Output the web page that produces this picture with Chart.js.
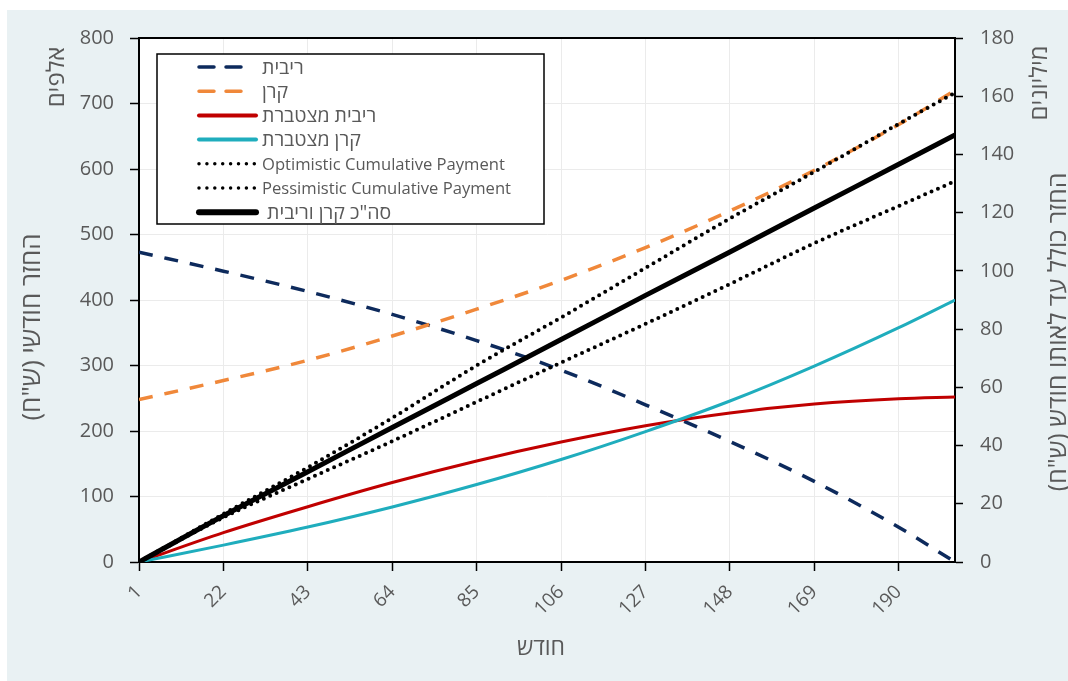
<!DOCTYPE html>
<html><head><meta charset="utf-8">
<script src="https://cdn.jsdelivr.net/npm/chart.js@4"></script>
<style>html,body{margin:0;padding:0;background:#fff;}#wrap{position:relative;width:1068px;height:681px;}</style>
</head><body><div id="wrap"><canvas id="c" width="1068" height="681"></canvas></div>
<script>
// ---- data ----
const months        = [1, 22, 43, 64, 85, 106, 127, 148, 169, 190, 204];
const monthTicks    = [1, 22, 43, 64, 85, 106, 127, 148, 169, 190];
const interest      = [473, 444, 413, 378, 338, 293, 240, 184, 123, 53, 0];          // thousands (left)
const principal     = [248, 277, 308, 345, 386, 430, 480, 536, 598, 668, 720];       // thousands (left)
const cumInterest   = [0, 10.1, 19.0, 27.3, 34.7, 41.2, 46.8, 51.2, 54.3, 56.1, 56.7]; // millions (right)
const cumPrincipal  = [0, 5.8, 12.0, 18.9, 26.6, 35.2, 44.8, 55.3, 67.3, 80.5, 90.0];
const optimistic    = [0, 16.5, 32.5, 49.5, 67.5, 84.0, 101.0, 118.0, 134.0, 150.5, 161.2];
const pessimistic   = [0, 15.3, 28.5, 41.5, 55.0, 68.5, 81.8, 95.5, 109.5, 122.3, 130.8];
const totalCum      = [0, 15.9, 31.0, 46.2, 61.3, 76.4, 91.6, 106.5, 121.6, 136.6, 146.7];
const seriesNames   = ['ריבית', 'קרן', 'ריבית מצטברת', 'קרן מצטברת', 'Optimistic Cumulative Payment', 'Pessimistic Cumulative Payment', 'סה"כ קרן וריבית '];
const xTitle = 'חודש';
const yLeftTitle = 'החזר חודשי (ש"ח)';
const yLeftUnit = 'אלפים';
const yRightTitle = 'החזר כולל עד לאותו חודש (ש"ח)';
const yRightUnit = 'מיליונים';

const pts = arr => months.map((m, i) => ({x: m, y: arr[i]}));
const FONT = "'Segoe UI', 'Open Sans', 'DejaVu Sans', sans-serif";
const GRAY = '#595959';

const legendW = [3.5, 3.5, 4, 4, 3.5, 3.5, 6];
const isHeb = s => /[\u0590-\u05FF]/.test(s);

const bgPlugin = {
  id: 'bg',
  beforeDraw(chart) {
    const ctx = chart.ctx, a = chart.chartArea;
    ctx.save();
    ctx.fillStyle = '#ffffff'; ctx.fillRect(0, 0, chart.width, chart.height);
    ctx.fillStyle = '#e9f1f3'; ctx.fillRect(7, 10, chart.width - 7, chart.height - 10);
    ctx.fillStyle = '#ffffff'; ctx.fillRect(a.left, a.top, a.right - a.left, a.bottom - a.top);
    ctx.restore();
  },
  afterDraw(chart) {
    const ctx = chart.ctx, a = chart.chartArea;
    ctx.save();
    // top border
    ctx.strokeStyle = '#000'; ctx.lineWidth = 2;
    ctx.beginPath(); ctx.moveTo(a.left - 1, a.top); ctx.lineTo(a.right + 1, a.top); ctx.stroke();
    // titles
    ctx.fillStyle = GRAY; ctx.textBaseline = 'middle'; ctx.textAlign = 'center';
    ctx.direction = 'rtl';
    const rot = (txt, x, y, ang) => { ctx.save(); ctx.translate(x, y); ctx.rotate(ang); ctx.fillText(txt, 0, 0); ctx.restore(); };
    ctx.font = '26px ' + FONT;
    rot(yLeftTitle, 33, 327, -Math.PI / 2);
    ctx.font = '25px ' + FONT;
    rot(yRightTitle, 1059, 332, -Math.PI / 2);
    ctx.font = '24px ' + FONT;
    rot(yLeftUnit, 57, 77, -Math.PI / 2);
    rot(yRightUnit, 1040, 83, -Math.PI / 2);
    ctx.font = '23px ' + FONT;
    ctx.fillText(xTitle, 541, 648);
    // legend
    const bx = 157, by = 54, bw = 387, bh = 170;
    ctx.fillStyle = '#fff'; ctx.fillRect(bx, by, bw, bh);
    ctx.strokeStyle = '#000'; ctx.lineWidth = 1.5; ctx.strokeRect(bx, by, bw, bh);
    chart.data.datasets.forEach((ds, i) => {
      const y = 67 + i * 24.2;
      ctx.save();
      ctx.strokeStyle = ds.borderColor;
      ctx.lineWidth = legendW[i];
      if (ds.borderDash && ds.borderDash[0] === 0) { ctx.setLineDash([0, 7.9]); ctx.lineCap = 'round'; }
      else if (ds.borderDash) { ctx.setLineDash([15, 12]); ctx.lineCap = 'round'; }
      else { ctx.setLineDash([]); ctx.lineCap = 'round'; }
      ctx.beginPath(); ctx.moveTo(199, y); ctx.lineTo(ds.borderDash && ds.borderDash[0] !== 0 ? 253 : 256, y); ctx.stroke();
      ctx.restore();
      ctx.fillStyle = GRAY; ctx.textAlign = 'left';
      const heb = isHeb(ds.label);
      ctx.direction = heb ? 'rtl' : 'ltr';
      ctx.font = (heb ? '19.5px ' : '16.6px ') + FONT;
      ctx.fillText(ds.label, 262, y + 1);
    });
    ctx.restore();
  }
};

const common = {pointRadius: 0, fill: false, cubicInterpolationMode: 'monotone'};
new Chart(document.getElementById('c'), {
  type: 'line',
  data: {
    datasets: [
      {...common, label: seriesNames[0], data: pts(interest), yAxisID: 'y', borderColor: '#0d2a5c', borderWidth: 3.5, borderDash: [14, 12], order: 7},
      {...common, label: seriesNames[1], data: pts(principal), yAxisID: 'y', borderColor: '#f0883a', borderWidth: 3.5, borderDash: [14, 12], order: 6},
      {...common, label: seriesNames[2], data: pts(cumInterest), yAxisID: 'y2', borderColor: '#c00000', borderWidth: 3, order: 5},
      {...common, label: seriesNames[3], data: pts(cumPrincipal), yAxisID: 'y2', borderColor: '#1fadbd', borderWidth: 3, order: 4},
      {...common, label: seriesNames[4], data: pts(optimistic), yAxisID: 'y2', borderColor: '#000', borderWidth: 4, borderDash: [0, 7], borderCapStyle: 'round', order: 1},
      {...common, label: seriesNames[5], data: pts(pessimistic), yAxisID: 'y2', borderColor: '#000', borderWidth: 4, borderDash: [0, 7], borderCapStyle: 'round', order: 2},
      {...common, label: seriesNames[6], data: pts(totalCum), yAxisID: 'y2', borderColor: '#000', borderWidth: 5, order: 3}
    ]
  },
  options: {
    responsive: false, animation: false, devicePixelRatio: 1,
    layout: {padding: {top: 38, left: 0, right: 0, bottom: 0}},
    plugins: {legend: {display: false}, tooltip: {enabled: false}},
    scales: {
      x: {
        type: 'linear', min: 1, max: 204,
        afterBuildTicks: s => { s.ticks = monthTicks.map(v => ({value: v})); },
        afterFit: s => { s.height = 119; },
        grid: {color: '#ebebeb', lineWidth: 1, tickColor: '#000', tickLength: 9, tickWidth: 1.5},
        border: {color: '#000', width: 2},
        ticks: {autoSkip: false, maxRotation: 45, minRotation: 45, padding: 10, color: GRAY, font: {family: FONT, size: 19}, callback: v => String(v)}
      },
      y: {
        position: 'left', min: 0, max: 800,
        afterFit: s => { s.width = 139; },
        grid: {color: '#ebebeb', lineWidth: 1, tickColor: '#000', tickLength: 9, tickWidth: 1.5},
        border: {color: '#000', width: 2},
        ticks: {stepSize: 100, padding: 16, color: GRAY, font: {family: FONT, size: 20}}
      },
      y2: {
        position: 'right', min: 0, max: 180,
        afterFit: s => { s.width = 113; },
        grid: {drawOnChartArea: false, tickColor: '#000', tickLength: 8, tickWidth: 1.5},
        border: {color: '#000', width: 2},
        ticks: {stepSize: 20, padding: 17, color: GRAY, font: {family: FONT, size: 20}}
      }
    }
  },
  plugins: [bgPlugin]
});
</script></body></html>
